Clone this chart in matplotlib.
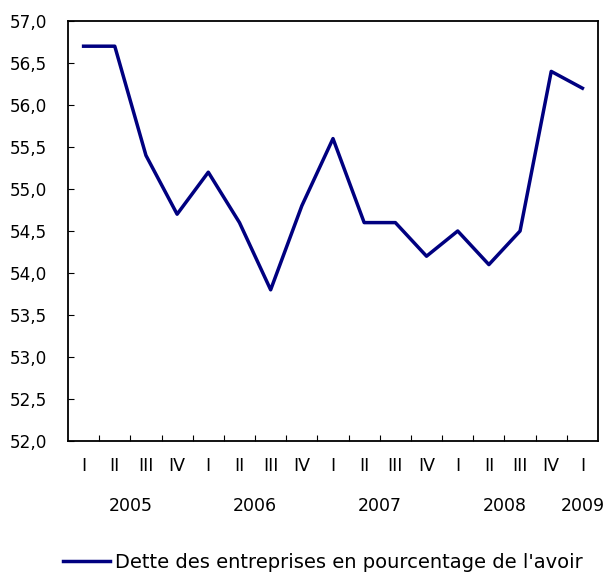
import numpy as np
import matplotlib.pyplot as plt
from matplotlib.ticker import FuncFormatter

quarters = ['I', 'II', 'III', 'IV'] * 4 + ['I']
years = ['2005', '2006', '2007', '2008', '2009']
year_centers = [1.5, 5.5, 9.5, 13.5, 16]
values = [56.7, 56.7, 55.4, 54.7, 55.2, 54.6, 53.8, 54.8, 55.6,
          54.6, 54.6, 54.2, 54.5, 54.1, 54.5, 56.4, 56.2]
label = "Dette des entreprises en pourcentage de l'avoir"

plt.rcParams['font.family'] = ['DejaVu Sans']

fig = plt.figure(figsize=(6.05, 5.74), dpi=100)
ax = fig.add_axes([68 / 605, 1 - 441 / 574, 530 / 605, 420 / 574])

x = np.arange(len(values))
ax.plot(x, values, color='#000080', lw=2.5, label=label)

ax.set_xlim(-0.5, len(values) - 0.5)
ax.set_ylim(52, 57)
ax.set_yticks(np.arange(52, 57.01, 0.5))
ax.yaxis.set_major_formatter(FuncFormatter(lambda v, p: f'{v:.1f}'.replace('.', ',')))
ax.tick_params(axis='y', direction='in', length=4, pad=15, labelsize=12.2)

ax.set_xticks(np.arange(0.5, len(values) - 1, 1))
ax.set_xticklabels([])
ax.tick_params(axis='x', direction='in', length=4)
for i, q in enumerate(quarters):
    ax.text(i, -0.06, q, transform=ax.get_xaxis_transform(), ha='center', va='center', fontsize=12.5)
for c, yr in zip(year_centers, years):
    ax.text(c, -0.155, yr, transform=ax.get_xaxis_transform(), ha='center', va='center', fontsize=12.5)

for s in ax.spines.values():
    s.set_linewidth(1.3)

fig.legend(loc='center left', bbox_to_anchor=(63 / 605, 1 - 562 / 574), frameon=False,
           fontsize=14, handlelength=2.4, handletextpad=0.25, borderpad=0, borderaxespad=0)

fig.savefig('out.png', dpi=100)
